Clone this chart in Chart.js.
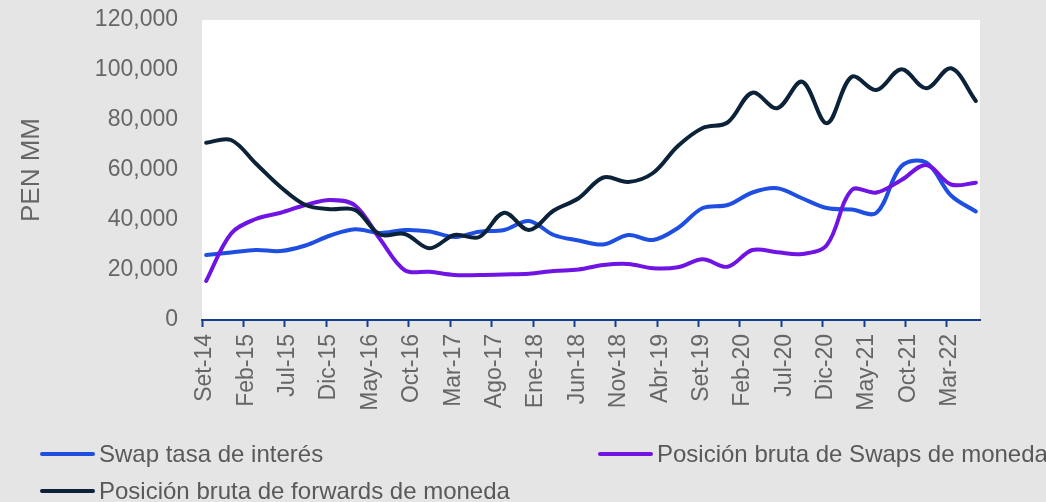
<!DOCTYPE html>
<html>
<head>
<meta charset="utf-8">
<script src="https://cdn.jsdelivr.net/npm/chart.js@4"></script>
<style>
  html, body { margin: 0; padding: 0; background: #e5e5e5; }
  #wrap { width: 1046px; height: 502px; position: relative; }
</style>
</head>
<body>
<div id="wrap"><canvas id="c"></canvas></div>
<script>
// Quarterly observations (categories)
const quarters = ['Set-14','Dic-14','Mar-15','Jun-15','Set-15','Dic-15','Mar-16','Jun-16',
  'Set-16','Dic-16','Mar-17','Jun-17','Set-17','Dic-17','Mar-18','Jun-18',
  'Set-18','Dic-18','Mar-19','Jun-19','Set-19','Dic-19','Mar-20','Jun-20',
  'Set-20','Dic-20','Mar-21','Jun-21','Set-21','Dic-21','Mar-22','Jun-22'];

// Series values (PEN MM)
const swapTasa = [26000,27000,28000,27600,29800,33800,36300,34800,
  36000,35400,33200,35300,36000,39600,34000,31800,
  30200,34000,32000,36800,44800,46000,51000,52700,
  48700,44800,44200,42900,61500,63000,49800,43400];
const swapMoneda = [15600,34500,40400,42900,46000,48000,45800,32400,
  19900,19300,18000,18000,18200,18500,19600,20200,
  22000,22400,20700,21100,24300,21300,28000,27100,
  26400,30000,52000,51000,56000,62000,54200,54900];
const forwards = [70900,72000,62600,53200,46000,44300,44000,34200,
  34400,28700,34000,33200,42900,36000,43800,48700,
  57000,55200,58800,69600,76800,79000,90900,84700,
  95300,78700,97300,92000,100300,92700,100700,87600];

// Axis tick labels (every 5 months from Set-14)
const tickLabels = ['Set-14','Feb-15','Jul-15','Dic-15','May-16','Oct-16','Mar-17','Ago-17',
  'Ene-18','Jun-18','Nov-18','Abr-19','Set-19','Feb-20','Jul-20','Dic-20','May-21','Oct-21','Mar-22'];
const seriesNames = ['Swap tasa de interés','Posición bruta de Swaps de moneda','Posición bruta de forwards de moneda'];
const monthSpan = 94;   // months covered by the axis (Set-14 .. Jul-22)
const monthsPerTick = 5;
const monthsPerQuarter = 3;

const FONT = "'Liberation Sans', Arial, sans-serif";
const GRAY = '#666666';
const AXIS = '#143F8E';
const COLORS = ['#1F4FE0', '#7014E3', '#0B2239'];

const toPoints = arr => arr.map((v, i) => ({ x: i * monthsPerQuarter + 0.5, y: v }));

const bgPlugin = {
  id: 'bg',
  beforeDraw(chart) {
    const { ctx, chartArea: a } = chart;
    ctx.save();
    ctx.fillStyle = '#e5e5e5';
    ctx.fillRect(0, 0, chart.width, chart.height);
    ctx.fillStyle = '#ffffff';
    ctx.fillRect(a.left, a.top, a.right - a.left, a.bottom - a.top);
    ctx.restore();
  }
};

const legendPlugin = {
  id: 'customLegend',
  afterDraw(chart) {
    const { ctx } = chart;
    const colX = [40, 598];
    const rowY = [454, 491];
    ctx.save();
    ctx.font = '24px ' + FONT;
    ctx.textBaseline = 'middle';
    ctx.textAlign = 'left';
    chart.data.datasets.forEach((ds, i) => {
      const x = colX[i % 2], y = rowY[Math.floor(i / 2)];
      ctx.strokeStyle = ds.borderColor;
      ctx.lineWidth = 4;
      ctx.lineCap = 'round';
      ctx.beginPath();
      ctx.moveTo(x + 2, y);
      ctx.lineTo(x + 53, y);
      ctx.stroke();
      ctx.fillStyle = '#595959';
      ctx.fillText(ds.label, x + 59, y + 1);
    });
    ctx.restore();
  }
};

const mkDs = (label, data, color, order) => ({
  label, data: toPoints(data), borderColor: color, backgroundColor: color,
  borderWidth: 4, pointRadius: 0, pointHoverRadius: 0, tension: 0.35,
  borderCapStyle: 'round', borderJoinStyle: 'round', fill: false, order
});

new Chart(document.getElementById('c'), {
  type: 'line',
  data: {
    datasets: [
      mkDs(seriesNames[0], swapTasa, COLORS[0], 2),
      mkDs(seriesNames[1], swapMoneda, COLORS[1], 1),
      mkDs(seriesNames[2], forwards, COLORS[2], 0)
    ]
  },
  options: {
    responsive: true,
    maintainAspectRatio: false,
    animation: false,
    devicePixelRatio: 1,
    layout: { padding: { top: 20, right: 66, bottom: 0, left: 0 } },
    plugins: { legend: { display: false }, tooltip: { enabled: false } },
    scales: {
      x: {
        type: 'linear',
        min: 0,
        max: monthSpan,
        afterBuildTicks: s => { s.ticks = tickLabels.map((_, j) => ({ value: j * monthsPerTick })); },
        afterFit: s => { s.height = 182; },
        ticks: {
          autoSkip: false, minRotation: 90, maxRotation: 90,
          padding: 7, labelOffset: 3, color: GRAY,
          font: { family: FONT, size: 23 },
          callback: v => tickLabels[Math.round(v / monthsPerTick)]
        },
        grid: { drawOnChartArea: false, drawTicks: true, tickLength: 7, tickColor: AXIS, tickWidth: 2 },
        border: { display: true, color: AXIS, width: 2 }
      },
      y: {
        min: 0, max: 120000,
        afterFit: s => { s.width = 202; },
        ticks: {
          stepSize: 20000, padding: 0, color: GRAY,
          font: { family: FONT, size: 23 },
          callback: v => v.toLocaleString('en-US')
        },
        grid: { display: true, drawOnChartArea: false, drawTicks: true, tickLength: 24, tickColor: 'rgba(0,0,0,0)' },
        border: { display: false },
        title: {
          display: true, text: 'PEN MM', color: GRAY,
          font: { family: FONT, size: 26 },
          padding: { top: 16, bottom: 0 }
        }
      }
    }
  },
  plugins: [bgPlugin, legendPlugin]
});
</script>
</body>
</html>
